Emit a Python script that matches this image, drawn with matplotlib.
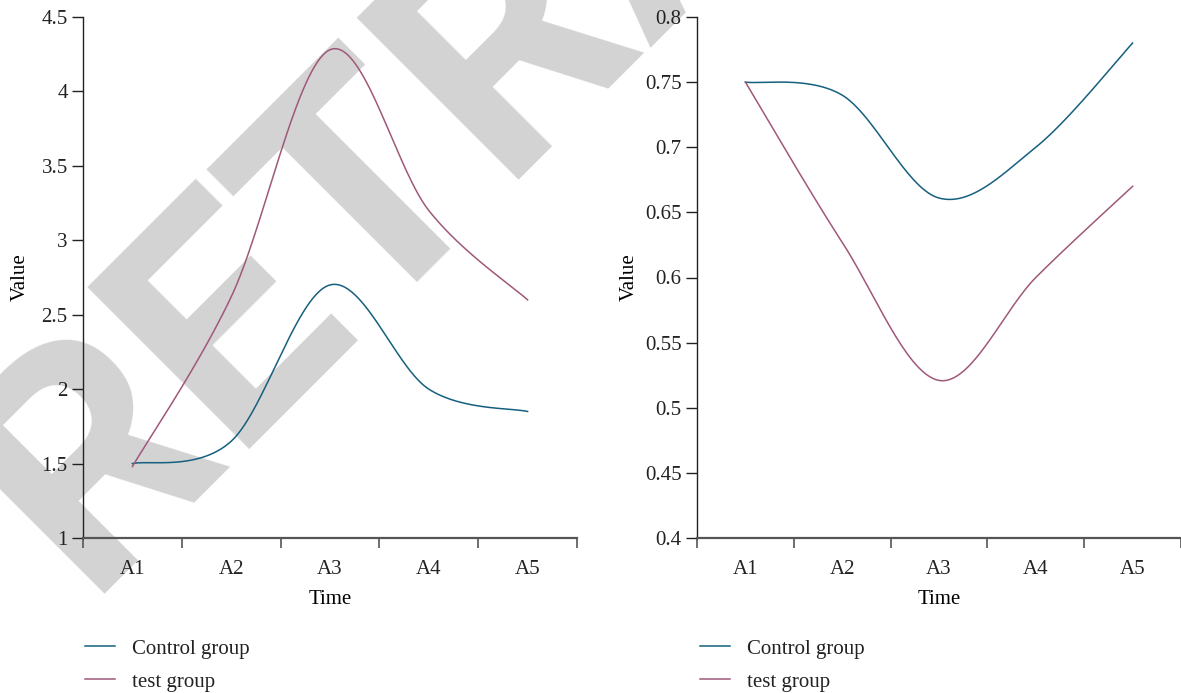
import numpy as np
import matplotlib
matplotlib.use("Agg")
import matplotlib.pyplot as plt

# ---------------- data ----------------
categories = ["A1", "A2", "A3", "A4", "A5"]
left_control = [1.50, 1.65, 2.70, 2.00, 1.85]
left_test = [1.48, 2.62, 4.28, 3.20, 2.60]
right_control = [0.750, 0.740, 0.661, 0.700, 0.780]
right_test = [0.750, 0.627, 0.521, 0.600, 0.670]
series_labels = ["Control group", "test group"]
left_yticks = [1, 1.5, 2, 2.5, 3, 3.5, 4, 4.5]
left_yticklabels = ["1", "1.5", "2", "2.5", "3", "3.5", "4", "4.5"]
right_yticks = [0.4, 0.45, 0.5, 0.55, 0.6, 0.65, 0.7, 0.75, 0.8]
right_yticklabels = ["0.4", "0.45", "0.5", "0.55", "0.6", "0.65", "0.7", "0.75", "0.8"]
watermark = "RETRACTED"

C_CONTROL = "#15607f"
C_TEST = "#a0587a"
FONT = "Liberation Serif"
FS = 15

plt.rcParams["font.family"] = [FONT, "DejaVu Serif"]


def smooth(xs, ys, n=60):
    """Smoothed-line rendering (Catmull-Rom Bezier segments) through the data points."""
    P = np.column_stack([xs, ys]).astype(float)
    m = len(P)
    out = []
    for i in range(m - 1):
        p0 = P[max(i - 1, 0)]
        p1 = P[i]
        p2 = P[i + 1]
        p3 = P[min(i + 2, m - 1)]
        c1 = p1 + (p2 - p0) / 6.0
        c2 = p2 - (p3 - p1) / 6.0
        t = np.linspace(0, 1, n)[:, None]
        seg = ((1 - t) ** 3) * p1 + 3 * ((1 - t) ** 2) * t * c1 + 3 * (1 - t) * t ** 2 * c2 + t ** 3 * p2
        out.append(seg if i == 0 else seg[1:])
    out = np.vstack(out)
    return out[:, 0], out[:, 1]


W, H = 1181, 693
fig = plt.figure(figsize=(W / 100, H / 100), dpi=100)

# watermark behind everything
fig.text(84 / W, 1 - 594 / H, watermark, fontsize=232, fontfamily="Roboto",
         fontweight="bold", color="#d3d3d3", rotation=45, rotation_mode="anchor",
         ha="left", va="baseline", zorder=-5)


def make_axes(rect, xmax, ctrl, test, yticks, yticklabels, ylim, ylabel_x):
    ax = fig.add_axes(rect)
    ax.set_facecolor("none")
    x = np.arange(1, len(categories) + 1)
    xs, ys = smooth(x, ctrl)
    ax.plot(xs, ys, color=C_CONTROL, lw=1.1, label=series_labels[0])
    xs, ys = smooth(x, test)
    ax.plot(xs, ys, color=C_TEST, lw=1.1, label=series_labels[1])
    ax.set_xlim(0.5, xmax)
    ax.set_ylim(*ylim)
    ax.set_xticks(x)
    ax.set_xticklabels(categories, fontsize=FS)
    ax.set_xticks(np.arange(0.5, len(categories) + 1, 1.0), minor=True)
    ax.tick_params(axis="x", which="major", length=0, pad=16)
    ax.tick_params(axis="x", which="minor", length=7, width=1.2, color="#555555", direction="out")
    ax.set_yticks(yticks)
    ax.set_yticklabels(yticklabels, fontsize=FS)
    ax.tick_params(axis="y", length=8, width=1.0, color="#222222", direction="out", pad=3)
    for s in ["top", "right"]:
        ax.spines[s].set_visible(False)
    ax.spines["left"].set_color("#222222")
    ax.spines["left"].set_linewidth(1.0)
    ax.spines["bottom"].set_color("#555555")
    ax.spines["bottom"].set_linewidth(1.6)
    ax.set_xlabel("Time", fontsize=FS, labelpad=8)
    ax.set_ylabel("Value", fontsize=FS)
    ax.yaxis.set_label_coords(ylabel_x, 0.5)
    ax.tick_params(colors="#222222", labelcolor="#222222")
    return ax


axL = make_axes([83 / W, 1 - 538 / H, (577 - 83) / W, (538 - 17) / H], 5.5,
                left_control, left_test, left_yticks, left_yticklabels, (1, 4.5), -0.107)
axR = make_axes([697 / W, 1 - 538 / H, (1181 - 697) / W, (538 - 17) / H], 5.46,
                right_control, right_test, right_yticks, right_yticklabels, (0.4, 0.8), -0.120)

for ax, lx in [(axL, 85), (axR, 700)]:
    leg = ax.legend(loc="upper left", bbox_to_anchor=(lx / W, 1 - 639 / H),
                    bbox_transform=fig.transFigure, frameon=False, fontsize=FS,
                    handlelength=1.45, handletextpad=0.8, labelspacing=0.65,
                    borderpad=0, borderaxespad=0)
    for t in leg.get_texts():
        t.set_color("#222222")

fig.savefig("out.png", dpi=100)
